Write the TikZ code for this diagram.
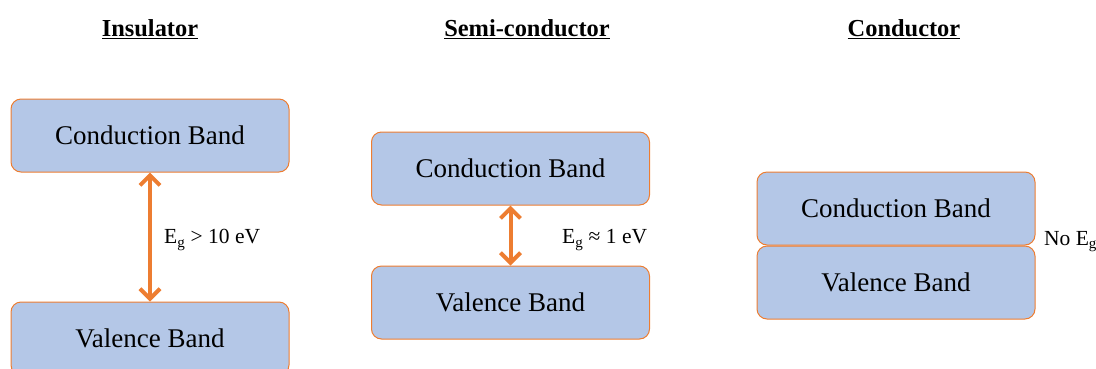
\documentclass[tikz,border=0pt]{standalone}
\usepackage{fontspec}
\setmainfont{Liberation Serif}
\usetikzlibrary{arrows.meta}
\definecolor{bandfill}{HTML}{B4C7E7}
\definecolor{bandedge}{HTML}{ED7D31}
\tikzset{
  band/.style={draw=bandedge, line width=1pt, fill=bandfill, rounded corners=10pt,
    minimum width=278pt, minimum height=73pt, inner sep=0pt, font=\fontsize{27}{32}\selectfont, text=black},
  title/.style={font=\bfseries\fontsize{24.4}{28}\selectfont, inner sep=0pt},
  gap/.style={draw=bandedge, line width=4pt, {Straight Barb[length=10pt,width=20pt,line width=4pt]}-{Straight Barb[length=10pt,width=20pt,line width=4pt]}},
  glabel/.style={font=\fontsize{21.5}{25}\selectfont, inner sep=0pt, anchor=west}
}
\newcommand{\ul}[1]{\underline{#1}}
\begin{document}
\begin{tikzpicture}[x=1pt,y=-1pt]
\useasboundingbox (0,0) rectangle (1096,368);
\node[title] (t1) at (150,29) {\ul{Insulator}};
\node[title] (t2) at (527,29) {\ul{Semi-conductor}};
\node[title] (t3) at (904,29) {\ul{Conductor}};
% insulator
\node[band] (ic) at (150,135.5) {\raisebox{-2pt}{Conduction Band}};
\node[band] (iv) at (150,338.5) {\raisebox{-2pt}{Valence Band}};
\draw[gap] (ic.south) -- (iv.north);
\node[glabel] (il) at (164,240) {E\textsubscript{g} > 10 eV};
% semiconductor
\node[band] (sc) at (510.5,168.5) {\raisebox{-2pt}{Conduction Band}};
\node[band] (sv) at (510.5,302.5) {\raisebox{-2pt}{Valence Band}};
\draw[gap] (sc.south) -- (sv.north);
\node[glabel] (sl) at (562,240) {E\textsubscript{g} ≈ 1 eV};
% conductor
\node[band] (cc) at (896,208.5) {\raisebox{-2pt}{Conduction Band}};
\node[band] (cv) at (896,282.5) {\raisebox{-2pt}{Valence Band}};
\node[glabel] (cl) at (1044,242) {No E\textsubscript{g}};
\end{tikzpicture}
\end{document}
